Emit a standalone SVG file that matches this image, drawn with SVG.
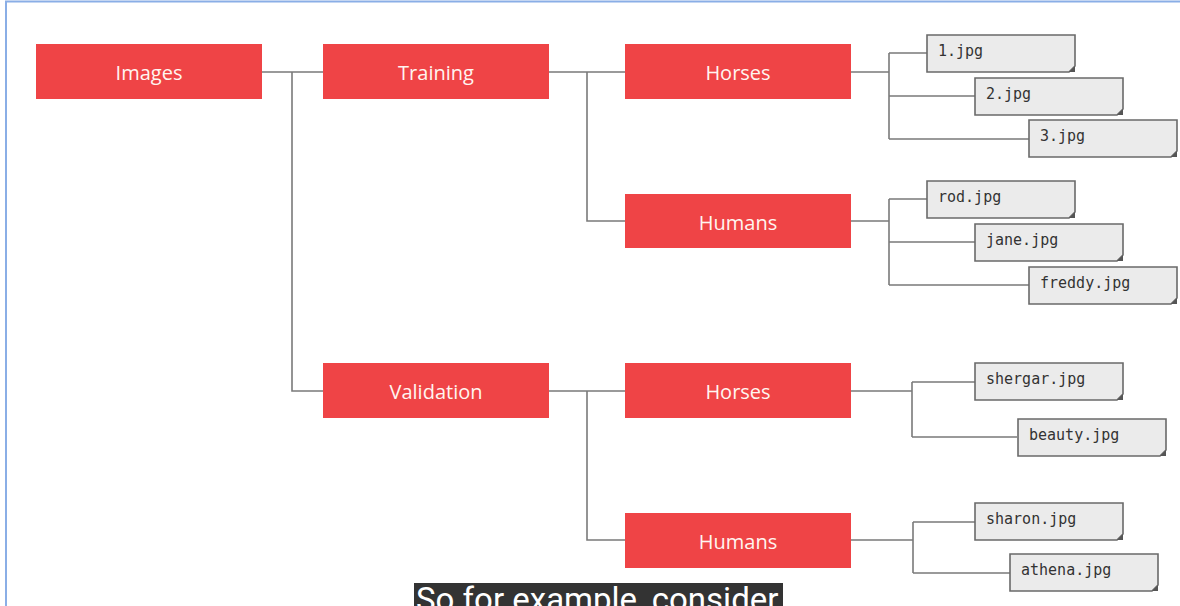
<svg xmlns="http://www.w3.org/2000/svg" width="1180" height="606" viewBox="0 0 1180 606">
<style>
.node rect{fill:#ef4446;}
.node text{fill:#fff5f0;font-family:"Open Sans","Noto Sans",sans-serif;font-size:20px;text-anchor:middle;}
.fb{fill:#ebebeb;stroke:#6a6a6a;stroke-width:1.6;}
.fc{fill:#555;}
.file text{fill:#333;font-family:"DejaVu Sans Mono","Liberation Mono",monospace;font-size:15px;}
#connectors path{fill:none;stroke:#7a7a7a;stroke-width:1.6;}
</style>
<defs>
<g id="fbox"><path class="fb" d="M0,0 H148 V31 L142,37 H0 Z"/><path class="fc" d="M148,31 V37 H142 Z"/></g>
<clipPath id="capclip"><rect x="414" y="583" width="369" height="23"/></clipPath>
</defs>
<rect width="1180" height="606" fill="#fff"/>
<path d="M6,606 V1.5 H1180" fill="none" stroke="#8aaee6" stroke-width="2"/>
<g id="connectors">
<path d="M262,72 H323 M292,72 V391 H323"/>
<path d="M549,72 H625 M587,72 V221 H625"/>
<path d="M549,391 H625 M587,391 V540 H625"/>
<path d="M851,72 H889 M889,53 V139 M889,53 H927 M889,96 H975 M889,139 H1029"/>
<path d="M851,221 H889 M889,199 V285 M889,199 H927 M889,242 H975 M889,285 H1029"/>
<path d="M851,391 H912 M912,382 V437 M912,382 H975 M912,437 H1017"/>
<path d="M851,540 H913 M913,522 V573 M913,522 H975 M913,573 H1010"/>
</g>
<g id="n-images" class="node"><rect x="36" y="44" width="226" height="55"/><text x="149" y="80">Images</text></g>
<g id="n-training" class="node"><rect x="323" y="44" width="226" height="55"/><text x="436" y="80">Training</text></g>
<g id="n-validation" class="node"><rect x="323" y="363" width="226" height="55"/><text x="436" y="399">Validation</text></g>
<g id="n-train-horses" class="node"><rect x="625" y="44" width="226" height="55"/><text x="738" y="80">Horses</text></g>
<g id="n-train-humans" class="node"><rect x="625" y="194" width="226" height="54"/><text x="738" y="230">Humans</text></g>
<g id="n-val-horses" class="node"><rect x="625" y="363" width="226" height="55"/><text x="738" y="399">Horses</text></g>
<g id="n-val-humans" class="node"><rect x="625" y="513" width="226" height="55"/><text x="738" y="549">Humans</text></g>
<g id="f-1" class="file" transform="translate(927,35)"><use href="#fbox"/><text x="11" y="21">1.jpg</text></g>
<g id="f-2" class="file" transform="translate(975,78)"><use href="#fbox"/><text x="11" y="21">2.jpg</text></g>
<g id="f-3" class="file" transform="translate(1029,120)"><use href="#fbox"/><text x="11" y="21">3.jpg</text></g>
<g id="f-rod" class="file" transform="translate(927,181)"><use href="#fbox"/><text x="11" y="21">rod.jpg</text></g>
<g id="f-jane" class="file" transform="translate(975,224)"><use href="#fbox"/><text x="11" y="21">jane.jpg</text></g>
<g id="f-freddy" class="file" transform="translate(1029,267)"><use href="#fbox"/><text x="11" y="21">freddy.jpg</text></g>
<g id="f-shergar" class="file" transform="translate(975,363)"><use href="#fbox"/><text x="11" y="21">shergar.jpg</text></g>
<g id="f-beauty" class="file" transform="translate(1018,419)"><use href="#fbox"/><text x="11" y="21">beauty.jpg</text></g>
<g id="f-sharon" class="file" transform="translate(975,503)"><use href="#fbox"/><text x="11" y="21">sharon.jpg</text></g>
<g id="f-athena" class="file" transform="translate(1010,554)"><use href="#fbox"/><text x="11" y="21">athena.jpg</text></g>
<g id="caption">
<rect x="414" y="583" width="369" height="23" fill="#333"/>
<text x="416" y="611" fill="#fff" font-family="Roboto,'Liberation Sans',sans-serif" font-size="33" clip-path="url(#capclip)">So for example, consider</text>
</g>
</svg>
